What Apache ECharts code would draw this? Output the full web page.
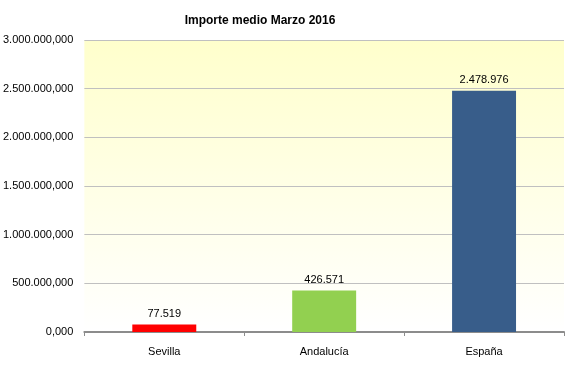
<!DOCTYPE html>
<html>
<head>
<meta charset="utf-8">
<script src="https://cdn.jsdelivr.net/npm/echarts@6/dist/echarts.min.js"></script>
<style>html,body{margin:0;padding:0;background:#fff}#c{width:573px;height:367px}</style>
</head>
<body>
<div id="c"></div>
<script>
const categories = ['Sevilla', 'Andalucía', 'España'];
const values = [77519, 426571, 2478976];
const barColors = ['#ff0000', '#92d050', '#385d8a'];
const titleText = 'Importe medio Marzo 2016';

function fmtThousands(n) {
  return String(Math.round(n)).replace(/\B(?=(\d{3})+(?!\d))/g, '.');
}
function fmtAxis(n) {
  return fmtThousands(n) + ',000';
}

const chart = echarts.init(document.getElementById('c'), null, {renderer: 'canvas'});
chart.setOption({
  animation: false,
  title: {
    text: titleText,
    left: 255, top: 10, textAlign: 'center',
    textStyle: {fontFamily: 'Liberation Sans', fontSize: 12, fontWeight: 'bold', color: '#000'}
  },
  grid: {
    left: 81, right: 9, top: 40, bottom: 35,
    show: true, borderWidth: 0,
    backgroundColor: new echarts.graphic.LinearGradient(0, 0, 0, 1, [
      {offset: 0, color: '#ffffcc'},
      {offset: 1, color: '#ffffff'}
    ])
  },
  xAxis: {
    type: 'category',
    data: categories,
    axisLine: {lineStyle: {color: '#8c8c8c', width: 2}},
    axisTick: {show: true, lineStyle: {color: '#8c8c8c'}, length: 4},
    axisLabel: {color: '#000', fontFamily: 'Liberation Sans', fontSize: 11, margin: 14}
  },
  yAxis: {
    type: 'value',
    min: 0, max: 3000000, interval: 500000,
    axisLine: {show: false},
    axisTick: {show: false},
    splitLine: {lineStyle: {color: '#c0c0c0', width: 1}},
    axisLabel: {color: '#000', fontFamily: 'Liberation Sans', fontSize: 11, margin: 11, formatter: fmtAxis}
  },
  series: [{
    type: 'bar',
    data: values.map((v, i) => ({value: v, itemStyle: {color: barColors[i]}})),
    barWidth: '40%',
    label: {
      show: true, position: 'top', distance: 5,
      fontFamily: 'Liberation Sans', fontSize: 11, color: '#000',
      formatter: p => fmtThousands(p.value)
    }
  }]
});
</script>
</body>
</html>
